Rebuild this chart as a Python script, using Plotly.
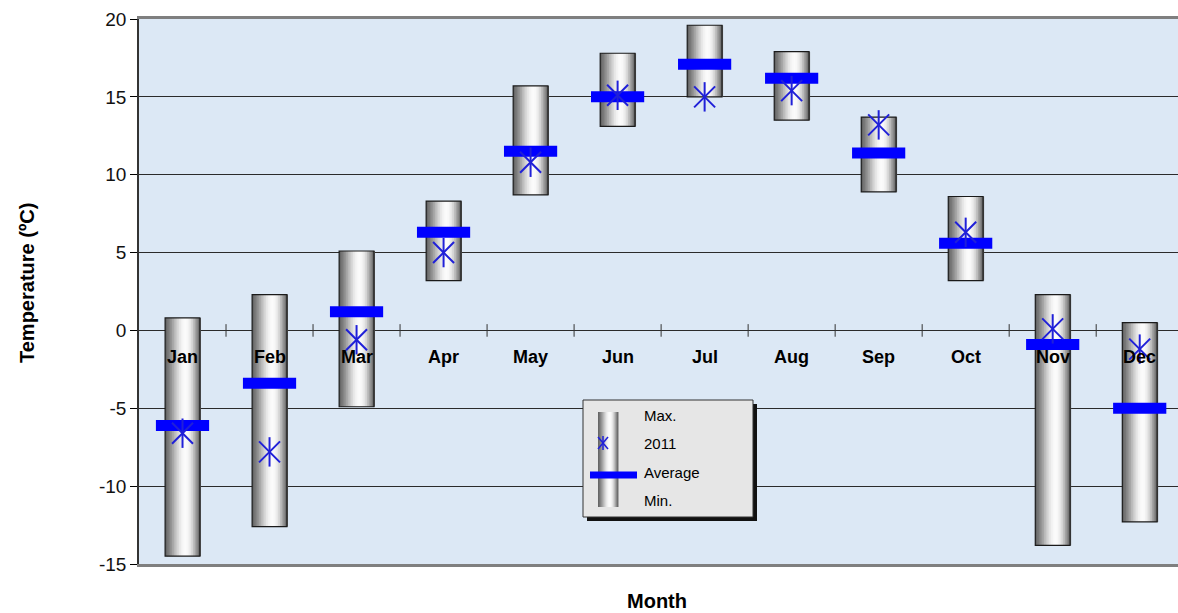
import plotly.graph_objects as go

months = ["Jan", "Feb", "Mar", "Apr", "May", "Jun", "Jul", "Aug", "Sep", "Oct", "Nov", "Dec"]
t_max = [0.8, 2.3, 5.1, 8.3, 15.7, 17.8, 19.6, 17.9, 13.7, 8.6, 2.3, 0.5]
t_min = [-14.5, -12.6, -4.9, 3.2, 8.7, 13.1, 15.0, 13.5, 8.9, 3.2, -13.8, -12.3]
t_avg = [-6.1, -3.4, 1.2, 6.3, 11.5, 15.0, 17.1, 16.2, 11.4, 5.6, -0.9, -5.0]
t_2011 = [-6.6, -7.8, -0.6, 5.0, 10.8, 15.1, 15.0, 15.4, 13.2, 6.3, 0.1, -1.2]
y_tick_vals = [-15, -10, -5, 0, 5, 10, 15, 20]
y_tick_text = ["-15", "-10", "-5", "0", "5", "10", "15", "20"]

W, H = 1178, 613
L, R, T, B = 139, 0, 19, 49
PW, PH = W - L - R, H - T - B

def px(x):
    return (x - L) / PW

def py(y):
    return (H - B - y) / PH

xs = list(range(len(months)))
heights = [a - b for a, b in zip(t_max, t_min)]

fig = go.Figure()

# category separator ticks on the zero line
fig.add_trace(go.Scatter(
    x=[i + 0.5 for i in xs[:-1]], y=[0] * (len(xs) - 1), mode="markers",
    marker=dict(symbol="line-ns-open", size=9, color="#333", line=dict(width=1, color="#333")),
    showlegend=False, hoverinfo="skip"))

# cylinder bars: vertical gray strips
shades = [0x66, 0x74, 0x84, 0x95, 0xa6, 0xb8, 0xc9, 0xd9, 0xe7, 0xf1, 0xf8, 0xfb,
          0xf9, 0xf2, 0xe6, 0xd4, 0xbe, 0xa4, 0x88, 0x6e]
BW = 0.4
n = len(shades)
sw = BW / n
for k, s in enumerate(shades):
    c = f"rgb({s},{s},{s})"
    fig.add_trace(go.Bar(
        x=xs, y=heights, base=t_min, width=sw * 1.6, offset=-BW / 2 + k * sw,
        marker=dict(color=c, line=dict(width=0)), showlegend=False, hoverinfo="skip"))
# outline
fig.add_trace(go.Bar(
    x=xs, y=heights, base=t_min, width=BW, offset=-BW / 2,
    marker=dict(color="rgba(0,0,0,0)", line=dict(width=1.2, color="#1a1a1a")),
    showlegend=False, hoverinfo="skip"))

# average
fig.add_trace(go.Scatter(
    x=xs, y=t_avg, mode="markers",
    marker=dict(symbol="line-ew-open", size=38, color="#0000ff", line=dict(width=11, color="#0000ff")),
    showlegend=False, hoverinfo="skip"))

# 2011 asterisk (X + vertical stroke)
for sym in ["x-thin-open", "line-ns-open"]:
    fig.add_trace(go.Scatter(
        x=xs, y=t_2011, mode="markers",
        marker=dict(symbol=sym, size=21, color="#2020d8", line=dict(width=2, color="#2020d8")),
        showlegend=False, hoverinfo="skip"))

font = "Arial, Liberation Sans, sans-serif"
annotations = []
for i, m in enumerate(months):
    annotations.append(dict(x=i, y=0, xref="x", yref="y", text=f"<b>{m}</b>", showarrow=False,
                            yshift=-27, font=dict(family=font, size=18, color="#000")))
annotations.append(dict(x=px(657), y=py(601), xref="paper", yref="paper", text="<b>Month</b>",
                        xanchor="center", yanchor="middle",
                        showarrow=False, font=dict(family=font, size=20, color="#000")))
annotations.append(dict(x=px(27), y=py(283), xref="paper", yref="paper", text="<b>Temperature (ºC)</b>",
                        xanchor="center", yanchor="middle",
                        textangle=-90, showarrow=False, font=dict(family=font, size=20, color="#000")))

# legend (paper coordinates)
shapes = []
shapes.append(dict(type="rect", xref="paper", yref="paper", x0=px(587), x1=px(757), y0=py(521), y1=py(404),
                   fillcolor="#111", line=dict(width=0), layer="above"))
shapes.append(dict(type="rect", xref="paper", yref="paper", x0=px(583), x1=px(753), y0=py(517), y1=py(400),
                   fillcolor="#e6e6e6", line=dict(width=1, color="#333"), layer="above"))
lx0, lx1 = 598, 618
lsw = (lx1 - lx0) / n
for k, s in enumerate(shades):
    shapes.append(dict(type="rect", xref="paper", yref="paper",
                       x0=px(lx0 + k * lsw), x1=px(lx0 + (k + 1.5) * lsw), y0=py(507), y1=py(412),
                       fillcolor=f"rgb({s},{s},{s})", line=dict(width=0), layer="above"))
shapes.append(dict(type="line", xref="paper", yref="paper", x0=px(590), x1=px(637), y0=py(475), y1=py(475),
                   line=dict(color="#0000ff", width=7), layer="above"))
for (a, b, c, d) in [(603, 436, 603, 450), (598, 437, 608, 449), (598, 449, 608, 437)]:
    shapes.append(dict(type="line", xref="paper", yref="paper", x0=px(a), y0=py(b), x1=px(c), y1=py(d),
                       line=dict(color="#2020d8", width=1.5), layer="above"))
for txt, yy in [("Max.", 415), ("2011", 443), ("Average", 472), ("Min.", 501)]:
    annotations.append(dict(x=px(642), y=py(yy), xref="paper", yref="paper", text=txt,
                            xanchor="left", yanchor="middle",
                            showarrow=False, font=dict(family=font, size=15, color="#000")))

fig.update_layout(
    width=W, height=H, margin=dict(l=L, r=R, t=T, b=B),
    paper_bgcolor="white", plot_bgcolor="#dce8f5",
    barmode="overlay", showlegend=False,
    annotations=annotations, shapes=shapes,
    xaxis=dict(range=[-0.5, 11.44], showticklabels=False, showgrid=False, zeroline=False,
               showline=True, linecolor="#7f7f7f", linewidth=3, mirror=True, ticks=""),
    yaxis=dict(range=[-15, 20], tickmode="array", tickvals=y_tick_vals, ticktext=y_tick_text,
               showgrid=True, gridcolor="#2b2b2b", gridwidth=1,
               zeroline=True, zerolinecolor="#2b2b2b", zerolinewidth=1,
               showline=True, linecolor="#333", linewidth=1.5,
               ticks="outside", ticklen=7, tickcolor="#000",
               tickfont=dict(family=font, size=19, color="#111")),
)

fig.write_html("out.html", config={"displayModeBar": False},
               post_script="document.body.style.margin='0';document.body.style.overflow='hidden';")
